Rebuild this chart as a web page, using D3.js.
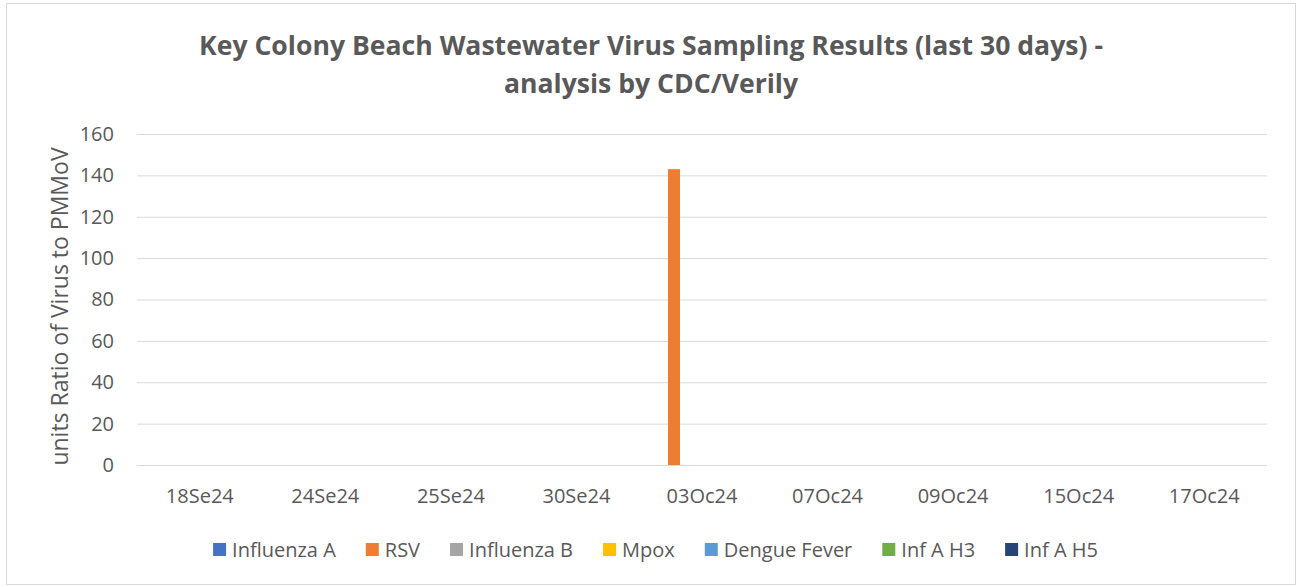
<!DOCTYPE html>
<html>
<head>
<meta charset="utf-8">
<script src="https://cdn.jsdelivr.net/npm/d3@7"></script>
<style>
  body { margin: 0; background: #fff; }
  text { font-family: "Open Sans", "DejaVu Sans", sans-serif; }
</style>
</head>
<body>
<div id="chart"></div>
<script>
// sample dates (categories)
const dates = ["18Se24", "24Se24", "25Se24", "30Se24", "03Oc24", "07Oc24", "09Oc24", "15Oc24", "17Oc24"];
const seriesNames = ["Influenza A", "RSV", "Influenza B", "Mpox", "Dengue Fever", "Inf A H3", "Inf A H5"];
const seriesColors = ["#4472C4", "#ED7D31", "#A5A5A5", "#FFC000", "#5B9BD5", "#70AD47", "#264478"];

// values per series, one per date
const influenzaA = [0, 0, 0, 0, 0, 0, 0, 0, 0];
const rsv        = [0, 0, 0, 0, 143, 0, 0, 0, 0];
const influenzaB = [0, 0, 0, 0, 0, 0, 0, 0, 0];
const mpox       = [0, 0, 0, 0, 0, 0, 0, 0, 0];
const dengue     = [0, 0, 0, 0, 0, 0, 0, 0, 0];
const infAH3     = [0, 0, 0, 0, 0, 0, 0, 0, 0];
const infAH5     = [0, 0, 0, 0, 0, 0, 0, 0, 0];
const yTicks = [0, 20, 40, 60, 80, 100, 120, 140, 160];

const seriesValues = [influenzaA, rsv, influenzaB, mpox, dengue, infAH3, infAH5];

const width = 1299, height = 587;
const margin = {left: 137, right: 32, top: 134, bottom: 122};
const textColor = "#595959";

const svg = d3.select("#chart").append("svg")
    .attr("width", width)
    .attr("height", height);

// outer chart border
svg.append("rect")
    .attr("x", 6.5).attr("y", 3.5)
    .attr("width", 1289).attr("height", 581)
    .attr("fill", "#fff")
    .attr("stroke", "#d9d9d9");

const x = d3.scaleBand()
    .domain(dates)
    .range([margin.left, width - margin.right]);

const y = d3.scaleLinear()
    .domain([0, 160])
    .range([height - margin.bottom, margin.top]);

// gridlines
svg.append("g")
    .selectAll("line")
    .data(yTicks)
    .enter().append("line")
    .attr("x1", margin.left)
    .attr("x2", width - margin.right)
    .attr("y1", d => y(d) + 0.5)
    .attr("y2", d => y(d) + 0.5)
    .attr("stroke", "#d9d9d9")
    .attr("stroke-width", 1);

// y tick labels
const yAxis = svg.append("g")
    .attr("transform", `translate(${margin.left - 23},0)`)
    .call(d3.axisLeft(y).tickValues(yTicks).tickSize(0).tickPadding(0));
yAxis.select(".domain").remove();
yAxis.selectAll("text")
    .style("font-family", "'Open Sans', sans-serif")
    .style("font-size", "20px")
    .attr("fill", textColor);

// x tick labels
const xAxis = svg.append("g")
    .attr("transform", `translate(0,${y(0)})`)
    .call(d3.axisBottom(x).tickSize(0).tickPadding(0));
xAxis.select(".domain").remove();
xAxis.selectAll("text")
    .style("font-family", "'Open Sans', sans-serif")
    .style("font-size", "20px")
    .attr("y", 38)
    .attr("dy", 0)
    .attr("fill", textColor);

// bars: clustered, 7 series per date
const barW = 12;
const x1 = d3.scaleBand()
    .domain(seriesNames)
    .range([0, barW * seriesNames.length]);

const groups = svg.append("g")
    .selectAll("g")
    .data(dates)
    .enter().append("g")
    .attr("transform", d => `translate(${x(d) + x.bandwidth() / 2 - barW * seriesNames.length / 2 - 4},0)`);

groups.selectAll("rect")
    .data((d, i) => seriesNames.map((s, j) => ({s: s, v: seriesValues[j][i], c: seriesColors[j]})))
    .enter().append("rect")
    .attr("x", d => x1(d.s))
    .attr("width", x1.bandwidth())
    .attr("y", d => y(d.v))
    .attr("height", d => y(0) - y(d.v))
    .attr("fill", d => d.c);

// title
const title = svg.append("text")
    .attr("text-anchor", "middle")
    .attr("fill", textColor)
    .style("font-size", "26.6px")
    .style("font-weight", "bold");
title.append("tspan").attr("x", 651).attr("y", 55)
    .text("Key Colony Beach Wastewater Virus Sampling Results (last 30 days) -");
title.append("tspan").attr("x", 651).attr("y", 93)
    .text("analysis by CDC/Verily");

// y axis title
svg.append("text")
    .attr("transform", `translate(68,${(y(0) + y(160)) / 2 + 7}) rotate(-90)`)
    .attr("text-anchor", "middle")
    .attr("fill", textColor)
    .style("font-size", "23px")
    .text("units Ratio of Virus to PMMoV");

// legend, laid out from measured text widths and centered
const legend = svg.append("g");
const items = legend.selectAll("g")
    .data(seriesNames)
    .enter().append("g");
items.append("rect")
    .attr("width", 13).attr("height", 13)
    .attr("y", -14)
    .attr("fill", (d, i) => seriesColors[i]);
items.append("text")
    .attr("x", 19)
    .attr("y", 0)
    .attr("fill", textColor)
    .style("font-size", "20px")
    .text(d => d);

let pos = 0;
const gap = 30;
items.each(function () {
    const w = 19 + this.querySelector("text").getComputedTextLength();
    d3.select(this).attr("transform", `translate(${pos},0)`);
    pos += w + gap;
});
const totalW = pos - gap;
legend.attr("transform", `translate(${655.5 - totalW / 2},557)`);
</script>
</body>
</html>
